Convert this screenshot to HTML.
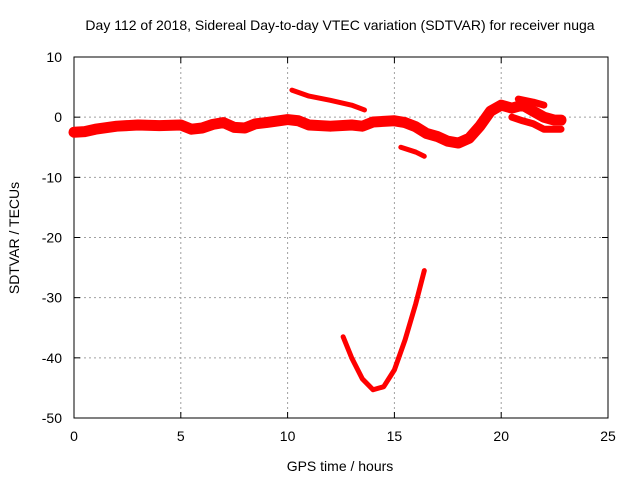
<!DOCTYPE html>
<html><head><meta charset="utf-8"><style>
body{margin:0;background:#fff;font-family:"Liberation Sans",sans-serif}
svg text{font-family:"Liberation Sans",sans-serif;font-size:14px;fill:#000}
</style></head><body>
<svg id="chart" width="640" height="480" xmlns="http://www.w3.org/2000/svg"></svg>
<script>
const xTicks=[0,5,10,15,20,25];
const yTicks=[10,0,-10,-20,-30,-40,-50];
const mainX=[0,0.5,1,2,3,4,5,5.5,6,6.5,7,7.5,8,8.5,9,10,10.5,11,12,13,13.5,14,15,15.5,16,16.5,17,17.5,18,18.5,19,19.5,20,20.5,21,21.5,22,22.5,22.8];
const mainY=[-2.5,-2.4,-2,-1.5,-1.3,-1.4,-1.3,-2,-1.8,-1.2,-0.9,-1.7,-1.8,-1.1,-0.9,-0.4,-0.6,-1.3,-1.5,-1.3,-1.5,-0.8,-0.6,-0.9,-1.6,-2.7,-3.2,-4,-4.3,-3.5,-1.5,1,2,1.5,2,1,0,-0.5,-0.5];
const lowX=[20.5,21,21.5,22,22.8];
const lowY=[0,-0.6,-1.1,-2,-2];
const upX=[20.8,21.5,22];
const upY=[3,2.5,2];
const arcX=[10.2,11,12,13,13.6];
const arcY=[4.5,3.5,2.8,2,1.2];
const dipX=[15.3,16,16.4];
const dipY=[-5,-5.8,-6.5];
const vX=[12.6,13,13.5,14,14.5,15,15.5,16,16.4];
const vY=[-36.5,-40,-43.5,-45.3,-44.8,-42,-37,-31,-25.5];
const L=74,R=608,T=57,B=418;
const sx=v=>L+(v-0)/25*(R-L);
const sy=v=>T+(10-v)/60*(B-T);
const svg=document.getElementById('chart');
const NS='http://www.w3.org/2000/svg';
function mk(t,a,txt){const e=document.createElementNS(NS,t);for(const k in a)e.setAttribute(k,a[k]);if(txt!==undefined)e.textContent=txt;svg.appendChild(e);return e;}
xTicks.forEach(v=>{
 if(v>0&&v<25){const g=mk('line',{x1:sx(v),x2:sx(v),y1:T,y2:B,stroke:'#a0a0a0','stroke-dasharray':'2,3'});
 
 }
 const t=mk('text',{x:sx(v),y:B+23,'text-anchor':'middle'},v);
 
 
 mk('line',{x1:sx(v),x2:sx(v),y1:B,y2:B-6,stroke:'#000'});
 mk('line',{x1:sx(v),x2:sx(v),y1:T,y2:T+6,stroke:'#000'});
});
yTicks.forEach(v=>{
 if(v<10&&v>-50){const g=mk('line',{x1:L,x2:R,y1:sy(v),y2:sy(v),stroke:'#a0a0a0','stroke-dasharray':'2,3'});
 
 }
 const t=mk('text',{x:L-12,y:sy(v)+5,'text-anchor':'end'},v);
 
 
 mk('line',{x1:L,x2:L+6,y1:sy(v),y2:sy(v),stroke:'#000'});
 mk('line',{x1:R,x2:R-6,y1:sy(v),y2:sy(v),stroke:'#000'});
});
const fr=mk('rect',{x:L,y:T,width:R-L,height:B-T,fill:'none',stroke:'#000'});


function series(xs,ys,w,name){
 const pts=xs.map((x,i)=>sx(x)+','+sy(ys[i])).join(' ');
 const p=mk('polyline',{points:pts,fill:'none',stroke:'#ff0000','stroke-width':w,'stroke-linejoin':'round','stroke-linecap':'round'});
 
 
}
series(mainX,mainY,11,'series-main');
series(lowX,lowY,7,'series-lower-branch');
series(upX,upY,7,'series-upper-branch');
series(arcX,arcY,5,'series-arc');
series(dipX,dipY,5,'series-dip');
series(vX,vY,5,'series-v-curve');
const ti=mk('text',{x:340,y:30,'text-anchor':'middle'},'Day 112 of 2018, Sidereal Day-to-day VTEC variation (SDTVAR) for receiver nuga');


const xl=mk('text',{x:340,y:471,'text-anchor':'middle'},'GPS time / hours');


const yl=mk('text',{x:0,y:0,'text-anchor':'middle',transform:'translate(19,238) rotate(-90)'},'SDTVAR / TECUs');


</script>
</body></html>
